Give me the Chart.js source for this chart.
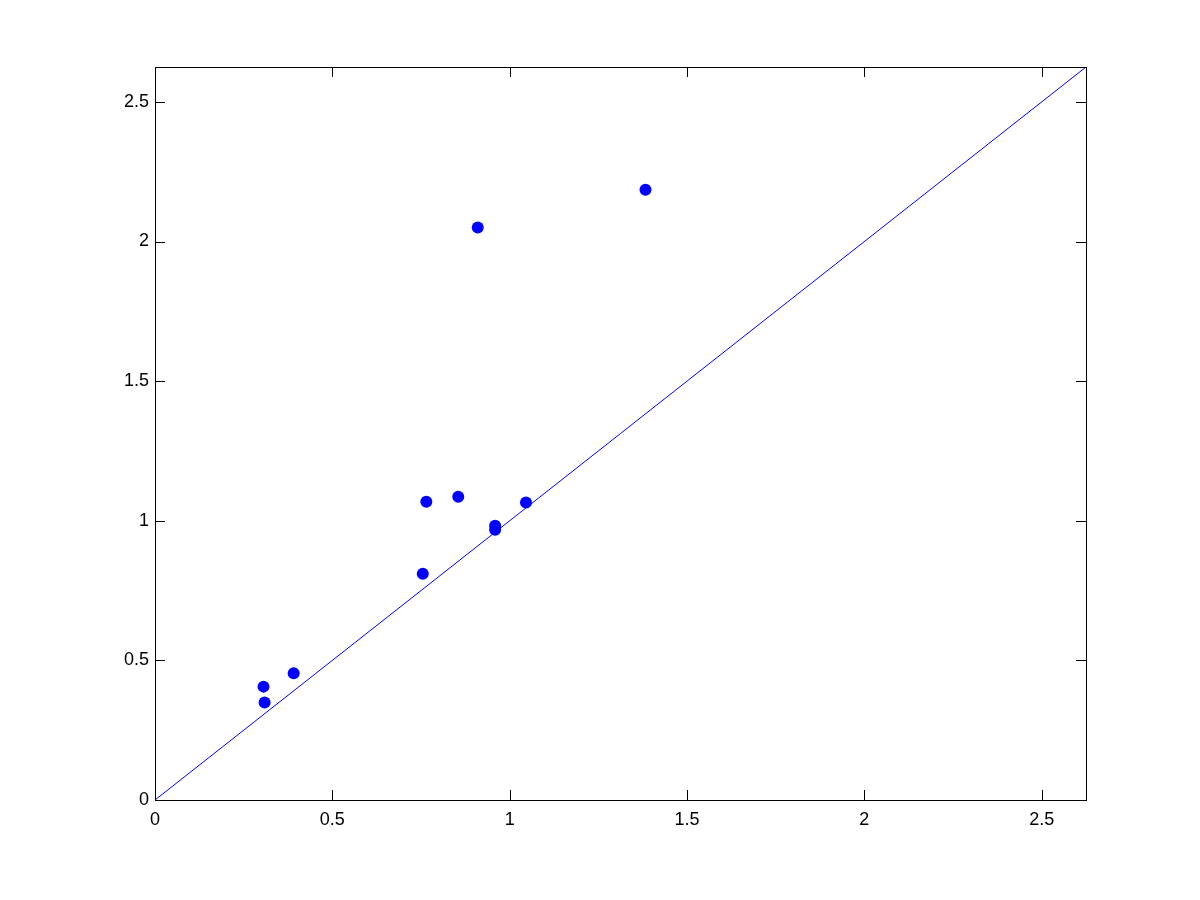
<!DOCTYPE html>
<html>
<head>
<meta charset="utf-8">
<script src="https://cdn.jsdelivr.net/npm/chart.js@4/dist/chart.umd.min.js"></script>
<style>
    body { margin: 0; background: #fff; }
    canvas { display: block; }
</style>
</head>
<body>
<canvas id="plot" width="1200" height="900"></canvas>
<script>
// values
const xVals = [0.306, 0.309, 0.391, 0.755, 0.765, 0.855, 0.959, 0.959, 1.046, 0.910, 1.383]
const yVals = [0.406, 0.349, 0.454, 0.810, 1.068, 1.086, 0.982, 0.968, 1.065, 2.050, 2.185]
const axisMax = 2.625
const lineX = [0, axisMax]
const lineY = [0, axisMax]

let points = xVals.map((x, i) => ({ x: x, y: yVals[i] }))
let diag = lineX.map((x, i) => ({ x: x, y: lineY[i] }))

// matlab style box with inward ticks
const boxTicks = {
    id: 'boxTicks',
    afterDraw(chart) {
        const ctx = chart.ctx
        const a = chart.chartArea
        const xs = chart.scales.x
        const ys = chart.scales.y
        const len = 10
        ctx.save()
        ctx.strokeStyle = '#000'
        ctx.lineWidth = 1
        ctx.beginPath()
        xs.ticks.forEach(t => {
            const px = Math.round(xs.getPixelForValue(t.value)) + 0.5
            ctx.moveTo(px, a.bottom)
            ctx.lineTo(px, a.bottom - len)
            ctx.moveTo(px, a.top)
            ctx.lineTo(px, a.top + len)
        })
        ys.ticks.forEach(t => {
            const py = Math.round(ys.getPixelForValue(t.value)) + 0.5
            ctx.moveTo(a.left, py)
            ctx.lineTo(a.left + len, py)
            ctx.moveTo(a.right, py)
            ctx.lineTo(a.right - len, py)
        })
        ctx.stroke()
        ctx.strokeRect(Math.round(a.left) + 0.5, Math.round(a.top) + 0.5,
            Math.round(a.right - a.left), Math.round(a.bottom - a.top))
        ctx.restore()
    }
}

const tickFont = { family: "'Liberation Sans', Arial, sans-serif", size: 18 }
const plainLabel = v => String(v)

new Chart(document.getElementById('plot'), {
    type: 'scatter',
    data: {
        datasets: [{
            type: 'line',
            data: diag,
            borderColor: 'rgb(0, 0, 255)',
            borderWidth: 1,
            pointRadius: 0,
            fill: false
        }, {
            type: 'scatter',
            data: points,
            backgroundColor: 'rgb(0, 0, 255)',
            borderColor: 'rgb(0, 0, 255)',
            pointRadius: 6,
            borderWidth: 0
        }]
    },
    options: {
        responsive: false,
        animation: false,
        layout: {
            padding: { left: 0, top: 67, right: 114, bottom: 0 }
        },
        plugins: {
            legend: { display: false },
            tooltip: { enabled: false }
        },
        scales: {
            x: {
                type: 'linear',
                min: 0,
                max: axisMax,
                grid: { display: false, drawTicks: false },
                border: { display: false },
                ticks: {
                    stepSize: 0.5,
                    includeBounds: false,
                    color: '#000',
                    font: tickFont,
                    padding: 9,
                    maxRotation: 0,
                    callback: plainLabel
                },
                afterFit(scale) { scale.height = 100 }
            },
            y: {
                type: 'linear',
                min: 0,
                max: axisMax,
                grid: { display: false, drawTicks: false },
                border: { display: false },
                ticks: {
                    stepSize: 0.5,
                    includeBounds: false,
                    color: '#000',
                    font: tickFont,
                    padding: 6,
                    callback: plainLabel
                },
                afterFit(scale) { scale.width = 155 }
            }
        }
    },
    plugins: [boxTicks]
})
</script>
</body>
</html>
